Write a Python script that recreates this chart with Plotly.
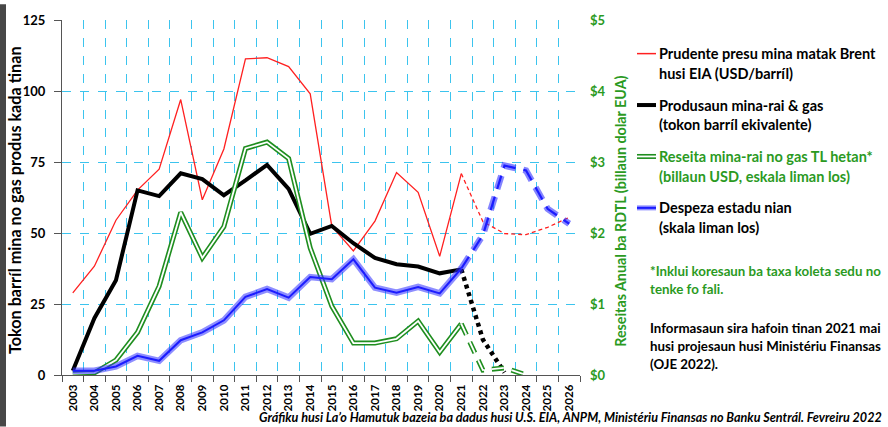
import plotly.graph_objects as go

# ---------------- data ----------------
years = list(range(2003, 2027))
brent = [28.9, 38.3, 54.5, 65.1, 72.5, 97.0, 61.7, 79.6, 111.3, 111.7, 108.6, 99.0,
         52.4, 43.7, 54.2, 71.3, 64.3, 41.8, 70.9, 54.0, 49.8, 49.4, 52.0, 55.5]
production = [1.5, 20.0, 33.4, 65.0, 63.0, 71.0, 69.0, 63.3, 68.5, 74.0, 65.5, 49.7,
              52.5, 46.4, 41.2, 39.0, 38.2, 35.8, 37.2, 12.5, 0.9, None, None, None]
revenue = [0.02, 0.03, 0.21, 0.60, 1.25, 2.29, 1.65, 2.09, 3.19, 3.28, 3.05, 1.79,
           0.97, 0.45, 0.45, 0.51, 0.76, 0.32, 0.72, 0.07, 0.10, 0.0, None, None]
spending = [0.06, 0.06, 0.12, 0.27, 0.20, 0.49, 0.60, 0.77, 1.10, 1.21, 1.09, 1.38,
            1.35, 1.63, 1.23, 1.16, 1.24, 1.15, 1.50, 1.97, 2.95, 2.88, 2.34, 2.13]
last_actual_year = 2021
tick_labels = [str(y) for y in years]

legend_lines = [
    ("Prudente presu mina matak Brent", "husi EIA (USD/barríl)"),
    ("Produsaun mina-rai & gas", "(tokon barríl ekivalente)"),
    ("Reseita mina-rai no gas TL hetan*", "(billaun USD, eskala liman los)"),
    ("Despeza estadu nian", "(skala liman los)"),
]
note_green = ["*Inklui koresaun ba taxa koleta sedu no", "tenke fo fali."]
note_black = ["Informasaun sira hafoin tinan 2021 mai",
              "husi projesaun husi Ministériu Finansas",
              "(OJE 2022)."]
footer = "Gráfiku husi La’o Hamutuk bazeia ba dadus husi U.S. EIA, ANPM, Ministériu Finansas no Banku Sentrál. Fevreiru 2022"
left_title = "Tokon barríl mina no gas produs kada tinan"
right_title = "Reseitas Anual ba RDTL (billaun dolar EUA)"

# ---------------- styling ----------------
FONT = "Lato"
W, H = 888, 427
L, R, T, B = 62, 580, 16, 375
GREEN_TXT = "#2b9a1f"
GREEN_LINE = "#1f8e1f"
GRID = "#3cc4ee"
AX = "#555555"

def px_x(x):
    return (x - L) / (R - L)

def px_y(y):
    return (B - y) / (B - T)

k = years.index(last_actual_year)

def split(vals):
    xa = [y for y, v in zip(years[:k + 1], vals[:k + 1]) if v is not None]
    va = [v for v in vals[:k + 1] if v is not None]
    xp = [y for y, v in zip(years[k:], vals[k:]) if v is not None]
    vp = [v for v in vals[k:] if v is not None]
    return xa, va, xp, vp

fig = go.Figure()

# invisible trace to carry the gridline axis
fig.add_trace(go.Scatter(x=[], y=[], xaxis="x2", yaxis="y", showlegend=False, hoverinfo="skip"))

# Brent (left axis)
xa, va, xp, vp = split(brent)
fig.add_trace(go.Scatter(x=xa, y=va, mode="lines", line=dict(color="#ff2020", width=1.3), showlegend=False))
fig.add_trace(go.Scatter(x=xp, y=vp, mode="lines", line=dict(color="#ff2020", width=1.3, dash="4px,3px"), showlegend=False))

# Revenue (right axis) double line
xa, va, xp, vp = split(revenue)
for w, c in [(5, GREEN_LINE), (1.8, "white")]:
    fig.add_trace(go.Scatter(x=xa, y=va, yaxis="y2", mode="lines", line=dict(color=c, width=w), showlegend=False))
for w, c in [(5, GREEN_LINE), (1.8, "white")]:
    fig.add_trace(go.Scatter(x=xp, y=vp, yaxis="y2", mode="lines", line=dict(color=c, width=w, dash="12px,8px"), showlegend=False))

# Production (left axis)
xa, va, xp, vp = split(production)
fig.add_trace(go.Scatter(x=xa, y=va, mode="lines", line=dict(color="black", width=4), showlegend=False))
fig.add_trace(go.Scatter(x=xp, y=vp, mode="lines", line=dict(color="black", width=4.5, dash="4px,4px"), showlegend=False))

# Spending (right axis)
xa, va, xp, vp = split(spending)
for w, c in [(6.5, "rgba(50,50,255,0.55)"), (2, "#1c1cff")]:
    fig.add_trace(go.Scatter(x=xa, y=va, yaxis="y2", mode="lines", line=dict(color=c, width=w), showlegend=False))
for w, c in [(6.5, "rgba(50,50,255,0.6)"), (2.2, "#1c1cff")]:
    fig.add_trace(go.Scatter(x=xp, y=vp, yaxis="y2", mode="lines", line=dict(color=c, width=w, dash="14px,8px"), showlegend=False))

annotations = []
shapes = []

# axis titles
annotations.append(dict(text=left_title, x=px_x(15), y=px_y(198), xref="paper", yref="paper",
                        textangle=-90, showarrow=False, xanchor="center", yanchor="middle",
                        font=dict(family=FONT, size=16.2, color="black", weight="bold")))
annotations.append(dict(text=right_title, x=px_x(621), y=px_y(210), xref="paper", yref="paper",
                        textangle=-90, showarrow=False, xanchor="center", yanchor="middle",
                        font=dict(family=FONT, size=14.3, color=GREEN_TXT, weight="bold")))

# legend
legend_y = [50, 102, 154, 206]
legend_gap = 20
for i, ((l1, l2), yy) in enumerate(zip(legend_lines, legend_y)):
    col = GREEN_TXT if i == 2 else "black"
    for j, t in enumerate((l1, l2)):
        annotations.append(dict(text=t, x=px_x(657), y=px_y(yy + j * legend_gap), xref="paper", yref="paper",
                                showarrow=False, xanchor="left", yanchor="middle",
                                font=dict(family=FONT, size=14.5, color=col, weight="bold")))

def sample(yy, color, width):
    shapes.append(dict(type="line", xref="paper", yref="paper", x0=px_x(637), x1=px_x(656),
                       y0=px_y(yy), y1=px_y(yy), line=dict(color=color, width=width)))

sample(legend_y[0], "#ff2020", 1.5)
sample(legend_y[1], "black", 4)
sample(legend_y[2], GREEN_LINE, 5)
sample(legend_y[2], "white", 1.8)
sample(legend_y[3], "rgba(50,50,255,0.55)", 5)
sample(legend_y[3], "#1c1cff", 2)

# notes
for j, t in enumerate(note_green):
    annotations.append(dict(text=t, x=px_x(648), y=px_y(270 + j * 18.5), xref="paper", yref="paper",
                            showarrow=False, xanchor="left", yanchor="middle",
                            font=dict(family=FONT, size=13.3, color=GREEN_TXT, weight="bold")))
for j, t in enumerate(note_black):
    annotations.append(dict(text=t, x=px_x(648), y=px_y(327 + j * 18.3), xref="paper", yref="paper",
                            showarrow=False, xanchor="left", yanchor="middle",
                            font=dict(family=FONT, size=13.3, color="black", weight="bold")))

# footer
annotations.append(dict(text=footer, x=px_x(884), y=px_y(418), xref="paper", yref="paper",
                        showarrow=False, xanchor="right", yanchor="middle",
                        font=dict(family=FONT, size=12.6, color="black", weight="bold", style="italic")))

# dark strip at left edge
shapes.append(dict(type="rect", xref="paper", yref="paper", x0=px_x(0), x1=px_x(6),
                   y0=px_y(H), y1=px_y(0), line=dict(width=0), fillcolor="#474747", layer="above"))

fig.update_layout(
    width=W, height=H,
    margin=dict(l=L, r=W - R, t=T, b=H - B, pad=0),
    paper_bgcolor="white", plot_bgcolor="white",
    showlegend=False,
    font=dict(family=FONT, color="black"),
    xaxis=dict(range=[2002.5, 2026.5], tickmode="array", tickvals=years, ticktext=tick_labels,
               tickangle=-90, ticks="", showgrid=False, zeroline=False, showline=True,
               linecolor=AX, linewidth=1.2, ticklabelstandoff=4,
               tickfont=dict(family=FONT, size=11.5, color="black", weight="bold")),
    xaxis2=dict(range=[2002.5, 2026.5], overlaying="x", anchor="y", side="bottom",
                tick0=2002.5, dtick=1, showgrid=True, gridcolor=GRID, griddash="dash", gridwidth=1,
                ticks="outside", ticklen=6, tickcolor=AX, showticklabels=False, zeroline=False,
                showline=False, layer="below traces"),
    yaxis=dict(range=[0, 125], dtick=25, showgrid=True, gridcolor=GRID, griddash="dash",
               zeroline=False, showline=True, linecolor=AX, linewidth=1.2,
               ticks="outside", ticklen=7, tickcolor=AX, ticklabelstandoff=6,
               tickfont=dict(family=FONT, size=13, color="black", weight="bold")),
    yaxis2=dict(range=[0, 5], dtick=1, overlaying="y", side="right", anchor="x",
                tickprefix="$", tickformat="d", showgrid=False, zeroline=False, showline=False,
                ticks="", ticklabelstandoff=9,
                tickfont=dict(family=FONT, size=13, color=GREEN_TXT, weight="bold")),
    annotations=annotations,
    shapes=shapes,
)

fig.write_html("out.html", config={"displayModeBar": False},
               post_script="document.body.style.margin='0';document.body.style.padding='0';")
